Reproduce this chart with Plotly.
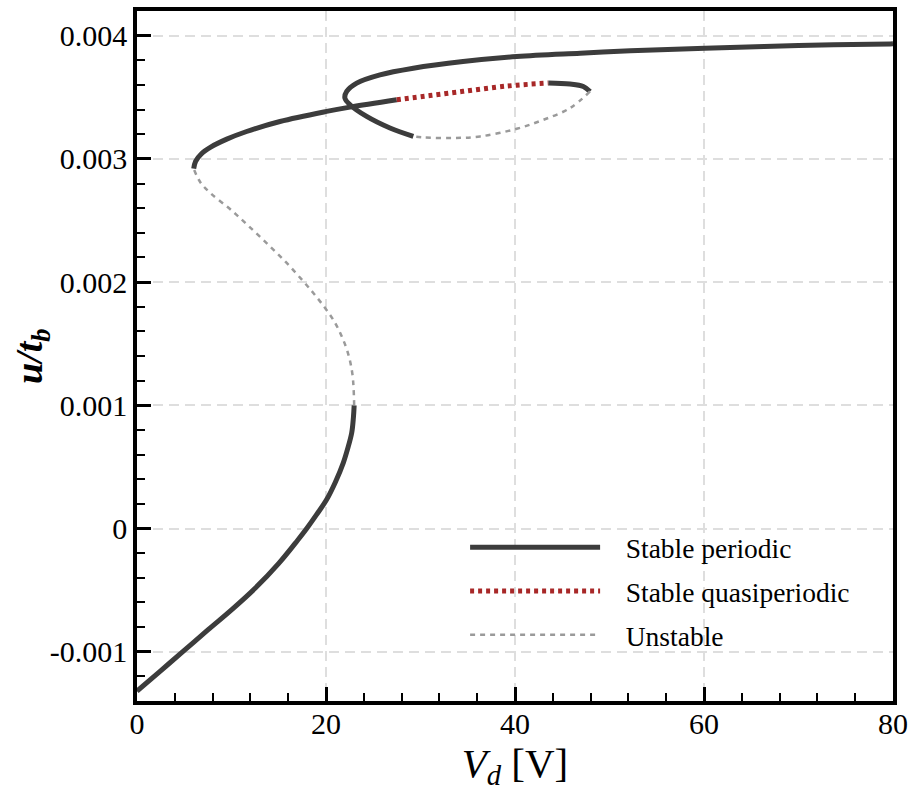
import plotly.graph_objects as go

# ---- data ----
s1_x = [0, 2.5, 5, 7.5, 10, 12.5, 15, 17, 17.96, 19, 20.07, 21, 21.83, 22.3, 22.72, 22.9, 22.98]
s1_y = [-0.00132, -0.001155, -0.00099, -0.000823, -0.00066, -0.000485, -0.000283, -0.000095,
        0.0, 0.000112, 0.000235, 0.000378, 0.000533, 0.00065, 0.000776, 0.0009, 0.001]

u1_x = [22.98, 22.8, 22.3, 21.6, 20.8, 19.8, 18.66, 17.6, 15.84, 13.9, 11.78, 9.84, 7.8, 6.7, 6.0]
u1_y = [0.001, 0.00125, 0.00143, 0.00157, 0.00169, 0.0018, 0.001911, 0.002006, 0.002155,
        0.002303, 0.002457, 0.002593, 0.00272, 0.00281, 0.00292]

s2_x = [6.0, 6.2, 6.8, 7.8, 9.5, 11.6, 15.13, 20.07, 22.54, 27.48]
s2_y = [0.00292, 0.00298, 0.00304, 0.003095, 0.00316, 0.003222, 0.003303, 0.003385, 0.00342, 0.00348]

q1_x = [27.48, 31.0, 34.5, 38.06, 40.18, 43.52]
q1_y = [0.00348, 0.003514, 0.003548, 0.003582, 0.003598, 0.003615]

s3_x = [43.52, 45.82, 47.23, 47.94]
s3_y = [0.003615, 0.003607, 0.003587, 0.003547]

u2_x = [47.94, 45.82, 43.0, 40.18, 36.3, 33.47, 30.3, 29.24]
u2_y = [0.003547, 0.003412, 0.003317, 0.003244, 0.003182, 0.003169, 0.003174, 0.003182]

s4_x = [29.24, 26.77, 24.3, 22.54, 22.0, 22.19, 23.25, 25.71, 29.24, 34.5, 40.18, 46.9,
        52.2, 60.1, 70.0, 79.7, 80.0]
s4_y = [0.003182, 0.00325, 0.003344, 0.003439, 0.003493, 0.003547, 0.003615, 0.003682,
        0.003736, 0.00379, 0.003831, 0.003858, 0.003877, 0.003898, 0.00392, 0.003933, 0.003934]

x_tickvals = [0, 20, 40, 60, 80]
x_ticktext = ["0", "20", "40", "60", "80"]
y_tickvals = [-0.001, 0, 0.001, 0.002, 0.003, 0.004]
y_ticktext = ["-0.001", "0", "0.001", "0.002", "0.003", "0.004"]

# ---- styles ----
STABLE = "#3c3c3c"
QUASI = "#a82828"
UNST = "#9a9a9a"
FONT = "Liberation Serif, Times New Roman, serif"
NB = "\u00a0\u00a0\u00a0"

fig = go.Figure()


def add(x, y, name, color, width, dash, show, group):
    fig.add_trace(go.Scatter(
        x=x, y=y, mode="lines", name=NB + name, legendgroup=group, showlegend=show,
        line=dict(color=color, width=width, dash=dash, shape="spline", smoothing=1.0),
        hoverinfo="skip"))


add(s1_x, s1_y, "Stable periodic", STABLE, 5, "solid", True, "g1")
add(s2_x, s2_y, "Stable periodic", STABLE, 5, "solid", False, "g1")
add(s3_x, s3_y, "Stable periodic", STABLE, 5, "solid", False, "g1")
add(s4_x, s4_y, "Stable periodic", STABLE, 5, "solid", False, "g1")
add(q1_x, q1_y, "Stable quasiperiodic", QUASI, 5, "4px,4px", True, "g2")
add(u1_x, u1_y, "Unstable", UNST, 2.5, "5px,5px", True, "g3")
add(u2_x, u2_y, "Unstable", UNST, 2.5, "5px,5px", False, "g3")

TICKFONT = dict(family=FONT, size=30, color="black")
axis_common = dict(
    showline=True, linecolor="black", linewidth=3.5, mirror=True,
    ticks="inside", ticklen=14, tickwidth=3, tickcolor="black",
    showgrid=True, gridcolor="#dedede", griddash="10px,6px", gridwidth=1.5,
    zeroline=False,
)

fig.update_xaxes(
    range=[0, 80], tickmode="array", tickvals=x_tickvals, ticktext=x_ticktext,
    tickfont=TICKFONT,
    minor=dict(dtick=4, tick0=0, ticks="inside", ticklen=8, tickwidth=1.5, tickcolor="black", showgrid=False),
    title=dict(text="<i>V</i><sub><i>d</i></sub> [V]", font=dict(family=FONT, size=41, color="black"), standoff=7),
    ticklabelstandoff=-7,
    **axis_common)
fig.update_yaxes(
    range=[-0.0014, 0.0042], tickmode="array", tickvals=y_tickvals, ticktext=y_ticktext,
    tickfont=TICKFONT,
    minor=dict(dtick=0.0002, tick0=0, ticks="inside", ticklen=8, tickwidth=1.5, tickcolor="black", showgrid=False),
    ticklabelstandoff=0,
    **axis_common)

fig.add_annotation(
    text="<b><i>u/t<sub>b</sub></i></b>", textangle=-90,
    xref="paper", yref="paper", x=-0.139, y=0.5, xanchor="center", yanchor="middle",
    showarrow=False, font=dict(family=FONT, size=38, color="black"))

fig.update_layout(
    width=916, height=800,
    font=dict(family=FONT, size=30, color="black"),
    margin=dict(l=137, r=23, t=11, b=99, autoexpand=False),
    plot_bgcolor="white", paper_bgcolor="white",
    legend=dict(x=0.434, y=0.258, xanchor="left", yanchor="top",
                font=dict(family=FONT, size=27.5, color="black"),
                bgcolor="rgba(0,0,0,0)", itemwidth=130, tracegroupgap=5),
)

fig.write_html("out.html")
